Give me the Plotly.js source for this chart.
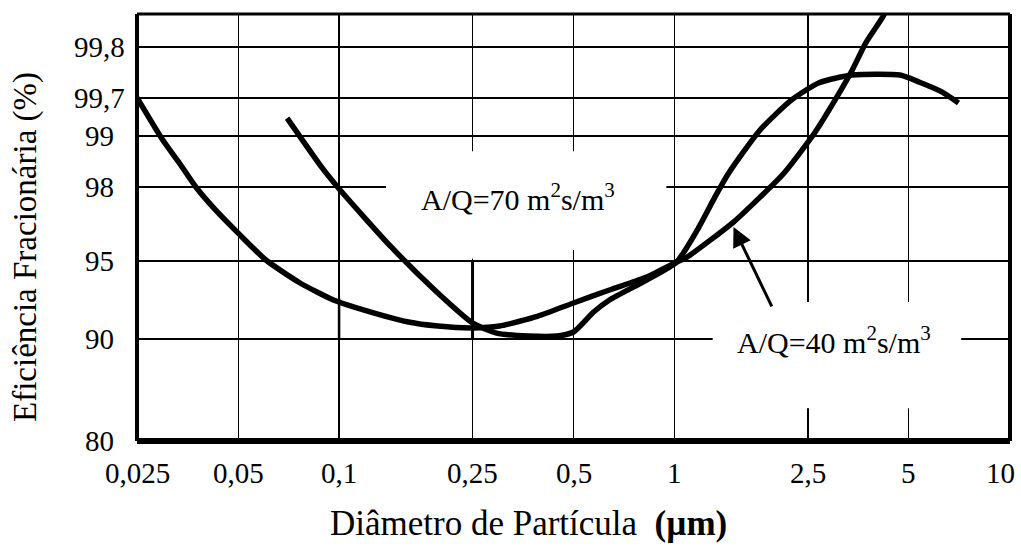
<!DOCTYPE html>
<html>
<head>
<meta charset="utf-8">
<script src="https://cdn.plot.ly/plotly-3.0.1.min.js"></script>
<style>html,body{margin:0;padding:0;background:#fff;}#chart{width:1021px;height:553px;}</style>
</head>
<body>
<div id="chart"></div>
<script>
// ---- data ----
const xTickVals = [0.025, 0.05, 0.1, 0.25, 0.5, 1, 2.5, 5, 10];
const xTickLabels = ['0,025', '0,05', '0,1', '0,25', '0,5', '1', '2,5', '5', '10'];

const yTickVals = [80, 90, 95, 98, 99, 99.7, 99.8];
const yTickLabels = ['80', '90', '95', '98', '99', '99,7', '99,8'];
// relative spacing of the original (non-uniform) efficiency scale
const yTickScale = [0, 102, 180, 254, 305, 343, 394];
const yScaleTop = 427;

// curve starting at the left edge (continues steeply past 2.5 µm)
const curve1X = [0.025, 0.0298, 0.0334, 0.0374, 0.0428, 0.05, 0.0605, 0.0765, 0.0962, 0.111, 0.161, 0.197, 0.25, 0.301, 0.392, 0.5, 0.640, 0.826, 1.015, 1.09, 1.50, 1.80, 2.12, 2.62, 3.01, 3.39, 3.72, 4.18, 4.30];
const curve1Y = [99.70, 98.92, 98.47, 98.0, 97.07, 96.13, 95.04, 93.59, 92.5, 92.05, 91.09, 90.83, 90.71, 90.83, 91.47, 92.31, 93.14, 93.97, 94.94, 95.16, 96.58, 97.59, 98.27, 99.06, 99.66, 99.755, 99.808, 99.859, 99.876];

// curve starting at 0.07 µm (dome near 99.7 %)
const curve2X = [0.070, 0.0887, 0.1007, 0.143, 0.197, 0.25, 0.295, 0.366, 0.447, 0.5, 0.574, 0.640, 0.826, 1.015, 1.17, 1.32, 1.45, 1.80, 2.23, 2.70, 3.39, 4.70, 5.38, 6.27, 7.03];
const curve2Y = [99.33, 98.39, 97.88, 95.57, 92.95, 91.03, 90.38, 90.19, 90.19, 90.45, 91.73, 92.5, 93.78, 94.94, 96.26, 97.59, 98.27, 99.11, 99.66, 99.73, 99.745, 99.745, 99.731, 99.712, 99.61];

const label70 = 'A/Q=70 m<sup>2</sup>s/m<sup>3</sup>';
const label40 = 'A/Q=40 m<sup>2</sup>s/m<sup>3</sup>';
const xTitle = 'Diâmetro de Partícula  <b>(µm)</b>';
const yTitle = 'Eficiência Fracionária (%)';

// ---- custom efficiency scale (piecewise linear between the sheet's ticks) ----
function yScale(v) {
  const n = yTickVals.length;
  let i = 0;
  while (i < n - 2 && v > yTickVals[i + 1]) i++;
  const t = (v - yTickVals[i]) / (yTickVals[i + 1] - yTickVals[i]);
  return yTickScale[i] + t * (yTickScale[i + 1] - yTickScale[i]);
}

const FONT = 'Liberation Serif';
const lineStyle = {color: '#000', width: 5.5, shape: 'spline', smoothing: 0.6};

const traces = [
  {x: curve1X, y: curve1Y.map(yScale), mode: 'lines', line: lineStyle, hoverinfo: 'skip', showlegend: false},
  {x: curve2X, y: curve2Y.map(yScale), mode: 'lines', line: lineStyle, hoverinfo: 'skip', showlegend: false}
];

const annotations = yTickVals.map((v, i) => ({
  xref: 'paper', yref: 'y', x: -0.043, y: yScale(v), text: yTickLabels[i],
  showarrow: false, xanchor: 'center', yanchor: 'middle',
  font: {family: FONT, size: 29, color: '#000'}
}));
xTickVals.forEach((v, i) => {
  const last = i === xTickVals.length - 1;
  annotations.push({
    xref: 'x', yref: 'paper', x: Math.log10(v), y: -0.075, text: xTickLabels[i],
    showarrow: false, xanchor: last ? 'right' : 'center', yanchor: 'middle',
    xshift: last ? 7 : 0,
    font: {family: FONT, size: 29, color: '#000'}
  });
});
annotations.push(
  {xref: 'x', yref: 'y', x: Math.log10(0.341), y: yScale(97.59), text: label70, showarrow: false,
   xanchor: 'center', yanchor: 'middle', font: {family: FONT, size: 30, color: '#000'}},
  {xref: 'x', yref: 'y', x: Math.log10(2.99), y: yScale(89.9), text: label40, showarrow: false,
   xanchor: 'center', yanchor: 'middle', font: {family: FONT, size: 30, color: '#000'}},
  {xref: 'x', yref: 'y', x: Math.log10(1.50), y: yScale(96.38), text: '', showarrow: true,
   ax: 39, ay: 81, arrowhead: 2, arrowsize: 1.3, arrowwidth: 3, arrowcolor: '#000'},
  {xref: 'paper', yref: 'paper', x: 0.448, y: -0.194, text: xTitle, showarrow: false,
   xanchor: 'center', yanchor: 'middle', font: {family: FONT, size: 35, color: '#000'}},
  {xref: 'paper', yref: 'paper', x: -0.128, y: 0.455, text: yTitle, showarrow: false, textangle: -90,
   xanchor: 'center', yanchor: 'middle', font: {family: FONT, size: 33, color: '#000'}}
);

const shapes = [
  // white boxes that interrupt the grid behind the labels (log-axis shapes use data values)
  {type: 'rect', layer: 'between', xref: 'x', yref: 'y', x0: 0.138, x1: 0.946,
   y0: yScale(95.45), y1: yScale(98.7), fillcolor: '#fff', line: {width: 0}},
  {type: 'rect', layer: 'between', xref: 'x', yref: 'y', x0: 0.235, x1: 0.265,
   y0: yScale(95.1), y1: yScale(96), fillcolor: '#fff', line: {width: 0}},
  {type: 'rect', layer: 'between', xref: 'x', yref: 'y', x0: 1.30, x1: 7.16,
   y0: yScale(83.2), y1: yScale(92.37), fillcolor: '#fff', line: {width: 0}},
  // heavier grid strokes
  {type: 'line', layer: 'between', xref: 'x', yref: 'y', x0: 0.25, x1: 0.25,
   y0: yScale(90), y1: yScale(95), line: {color: '#000', width: 3}},
  {type: 'line', layer: 'between', xref: 'x', yref: 'y', x0: 0.1, x1: 0.1,
   y0: yScale(90), y1: yScale(92.6), line: {color: '#000', width: 2.5}},
  // frame
  {type: 'line', xref: 'paper', yref: 'paper', x0: 0, x1: 1, y0: 0, y1: 0, line: {color: '#000', width: 6}},
  {type: 'line', xref: 'paper', yref: 'paper', x0: 0, x1: 0, y0: 0, y1: 1, line: {color: '#000', width: 4}},
  {type: 'line', xref: 'paper', yref: 'paper', x0: 0, x1: 1, y0: 1, y1: 1, line: {color: '#000', width: 3}},
  {type: 'line', xref: 'paper', yref: 'paper', x0: 1, x1: 1, y0: 0, y1: 1, line: {color: '#000', width: 4}}
];

const layout = {
  width: 1021, height: 553,
  margin: {l: 137, r: 11, t: 14, b: 112, pad: 0},
  paper_bgcolor: '#fff', plot_bgcolor: '#fff',
  showlegend: false,
  xaxis: {
    type: 'log', range: [Math.log10(0.025) - 0.0005, 1.0005],
    tickvals: xTickVals, showticklabels: false, ticks: '',
    showgrid: true, gridcolor: '#000', gridwidth: 1.2,
    zeroline: false, showline: false
  },
  yaxis: {
    type: 'linear', range: [0, yScaleTop],
    tickvals: yTickVals.map(yScale), showticklabels: false, ticks: '',
    showgrid: true, gridcolor: '#000', gridwidth: 1.2,
    zeroline: false, showline: false
  },
  annotations: annotations,
  shapes: shapes
};

Plotly.newPlot('chart', traces, layout, {staticPlot: true, displayModeBar: false});
</script>
</body>
</html>
